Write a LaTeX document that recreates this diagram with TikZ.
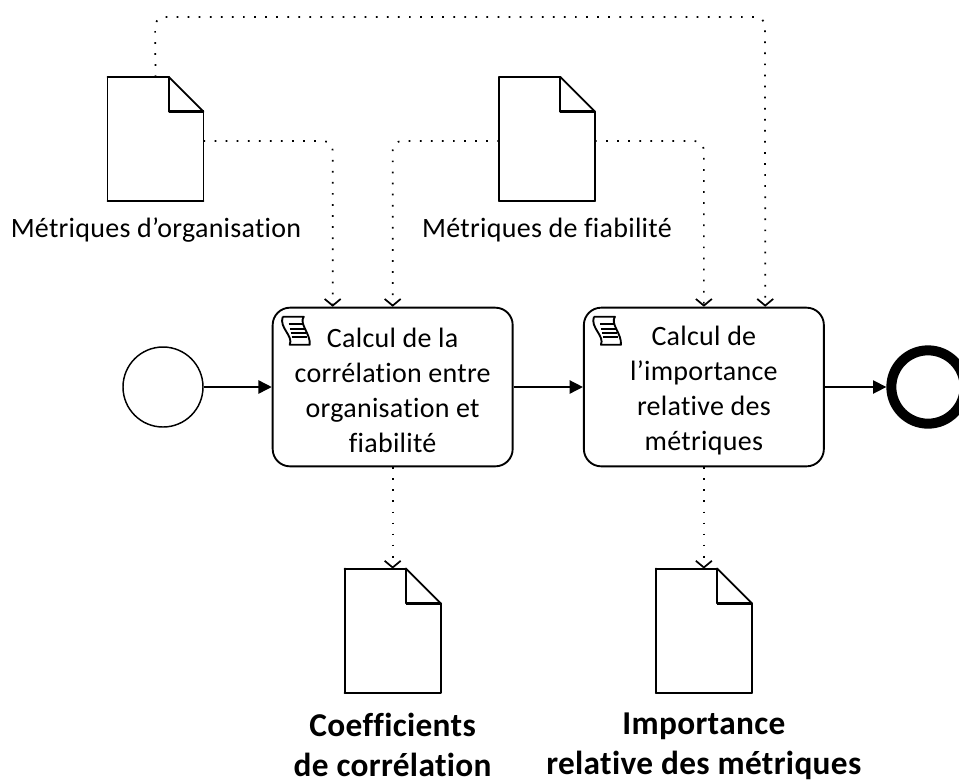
\documentclass[tikz,border=0pt]{standalone}
\usepackage{fontspec}
\setmainfont{Carlito}[LetterSpace=1,Ligatures=CommonOff]
\usetikzlibrary{positioning,arrows.meta}
\tikzset{
  event/.style={circle, draw, line width=1.1pt, minimum size=60pt, inner sep=0pt},
  endevent/.style={circle, draw, line width=7.5pt, minimum size=55pt, inner sep=0pt},
  task/.style={rectangle, rounded corners=13pt, draw, line width=1.4pt, align=center,
    minimum width=180pt, minimum height=119pt, inner sep=0pt, font=\fontsize{21}{26.2}\selectfont},
  docu/.style={minimum width=72pt, minimum height=93pt, inner sep=0pt, outer sep=0pt,
    append after command={
      (\tikzlastnode.south west) edge[docline, -] (\tikzlastnode.north west)
      (\tikzlastnode.south west) edge[docline, -] (\tikzlastnode.south east)
      (\tikzlastnode.south east) edge[docline, -] ([yshift=-26pt]\tikzlastnode.north east)
      (\tikzlastnode.north west) edge[docline, -] ([xshift=-26pt]\tikzlastnode.north east)
      ([xshift=-26pt]\tikzlastnode.north east) edge[docline, -] ([yshift=-26pt]\tikzlastnode.north east)
      ([xshift=-26pt]\tikzlastnode.north east) edge[docline, -] ([xshift=-26pt,yshift=-26pt]\tikzlastnode.north east)
      ([xshift=-26pt,yshift=-26pt]\tikzlastnode.north east) edge[line width=2pt, -] ([yshift=-26pt]\tikzlastnode.north east)
    }},
  docline/.style={line width=1.4pt, line cap=round},
  flow/.style={line width=1.1pt, -{Triangle[length=10pt,width=10pt]}},
  assoc/.style={line width=1.3pt, dash pattern=on 1.3pt off 7pt, rounded corners=7pt,
    -{Straight Barb[length=5pt,width=12pt]}},
  doclabel/.style={font=\fontsize{21}{24}\selectfont},
  outlabel/.style={font=\fontsize{25}{30}\selectfont\bfseries, align=center},
  pics/scripticon/.style={code={
    \draw[line width=1.4pt, line join=round] (2,1) -- (23,1) .. controls (18,8) and (30,18) .. (29,29)
      -- (9,29) .. controls (13,20) and (-2,12) .. (2,1);
    \draw[line width=1.4pt] (8,8) -- (23,8) (9,13) -- (24,13) (10,17) -- (25,17) (11,21) -- (26,21);
  }}
}
\begin{document}
\begin{tikzpicture}[x=0.75pt, y=-0.75pt]
  \useasboundingbox (0,0) rectangle (959,779);
  \node[event]                        (start) at (163,387) {};
  \node[task, right=51pt of start]    (task1) {\rule{0pt}{20pt}Calcul de la\\corrélation entre\\organisation et\\fiabilité};
  \node[task, right=52pt of task1]    (task2) {\rule{0pt}{20pt}Calcul de\\l’importance\\relative des\\métriques};
  \node[endevent]                     (end) at (928,387) {};
  \pic at ([shift={(9,9)}]task1.north west) {scripticon};
  \pic at ([shift={(9,9)}]task2.north west) {scripticon};
  \node[docu]                         (orga) at (155.5,139) {};
  \node[docu]                         (fiab) at (547,139) {};
  \node[docu, below=76pt of task1]    (coef) {};
  \node[docu, below=76pt of task2]    (impo) {};
  \node[doclabel] (orgalabel) at (156,230) {Métriques d’organisation};
  \node[doclabel] (fiablabel) at (547,230) {Métriques de fiabilité};
  \node[outlabel, below=12pt of coef] (coeflabel) {Coefficients\\de corrélation};
  \node[outlabel, below=12pt of impo] (impolabel) {Importance\\relative des métriques};
  \coordinate (topleft) at (155,17);
  \coordinate (topright) at (765,17);
  \draw[flow] (start) -- (task1);
  \draw[flow] (task1) -- (task2);
  \draw[flow] (task2) -- (end);
  \draw[assoc] (orga.north) -- (topleft) -- (topright) -- ([xshift=46pt]task2.north);
  \draw[assoc] ([yshift=-1.5pt]orga.east) -| ([xshift=-45pt]task1.north);
  \draw[assoc] ([yshift=-1.5pt]fiab.west) -| (task1.north);
  \draw[assoc] ([yshift=-1.5pt]fiab.east) -| (task2.north);
  \draw[assoc] (task1) -- (coef);
  \draw[assoc] (task2) -- (impo);
\end{tikzpicture}
\end{document}
